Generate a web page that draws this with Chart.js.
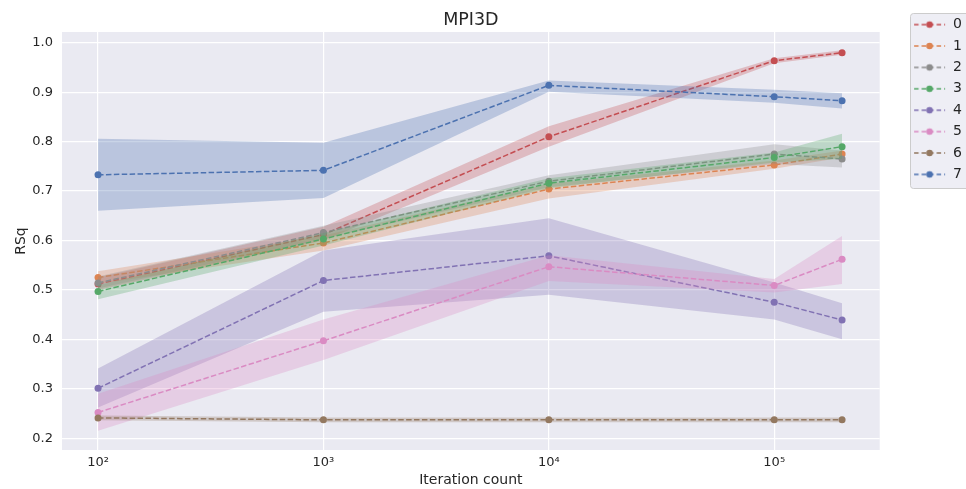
<!DOCTYPE html>
<html>
<head>
<meta charset="utf-8">
<script src="https://cdn.jsdelivr.net/npm/chart.js@4/dist/chart.umd.min.js"></script>
<style>
  html, body { margin: 0; padding: 0; background: #ffffff; }
</style>
</head>
<body>
<canvas id="chart" width="966" height="489"></canvas>
<script>
// x positions (iteration count) and tick labels
const iterations = [100, 1000, 10000, 100000, 200000];
const xTickValues = [100, 1000, 10000, 100000];
const xTickLabels = ['10²', '10³', '10⁴', '10⁵'];
const yTickValues = [0.2, 0.3, 0.4, 0.5, 0.6, 0.7, 0.8, 0.9, 1.0];

const seriesNames = ['0', '1', '2', '3', '4', '5', '6', '7'];
const seriesColors = ['#C44E52', '#DD8452', '#8C8C8C', '#55A868', '#8172B3', '#DA8BC3', '#937860', '#4C72B0'];

// mean RSq per series, one row per series
const rsqMean = [
  [0.512, 0.612, 0.810, 0.964, 0.980],
  [0.525, 0.595, 0.704, 0.753, 0.775],
  [0.514, 0.616, 0.720, 0.775, 0.765],
  [0.497, 0.603, 0.716, 0.768, 0.790],
  [0.301, 0.519, 0.569, 0.475, 0.439],
  [0.252, 0.397, 0.547, 0.509, 0.562],
  [0.241, 0.237, 0.237, 0.237, 0.237],
  [0.733, 0.742, 0.914, 0.891, 0.883]
];
// lower / upper edge of the shaded band
const rsqLow = [
  [0.500, 0.600, 0.790, 0.959, 0.976],
  [0.512, 0.580, 0.685, 0.745, 0.768],
  [0.503, 0.603, 0.708, 0.755, 0.748],
  [0.481, 0.590, 0.706, 0.758, 0.765],
  [0.262, 0.456, 0.490, 0.440, 0.400],
  [0.215, 0.358, 0.518, 0.495, 0.512],
  [0.236, 0.232, 0.232, 0.232, 0.232],
  [0.660, 0.686, 0.901, 0.879, 0.867]
];
const rsqHigh = [
  [0.525, 0.628, 0.831, 0.969, 0.985],
  [0.538, 0.610, 0.715, 0.762, 0.782],
  [0.527, 0.630, 0.732, 0.795, 0.782],
  [0.510, 0.615, 0.726, 0.778, 0.816],
  [0.341, 0.580, 0.645, 0.515, 0.473],
  [0.290, 0.440, 0.570, 0.522, 0.609],
  [0.246, 0.242, 0.242, 0.242, 0.242],
  [0.806, 0.798, 0.924, 0.905, 0.898]
];

const textColor = '#262626';
const fontFamily = "'DejaVu Sans', sans-serif";
const markerW = 59;

function rgba(hex, a) {
  const n = parseInt(hex.slice(1), 16);
  return 'rgba(' + (n >> 16) + ',' + ((n >> 8) & 255) + ',' + (n & 255) + ',' + a + ')';
}

function toPoints(row) {
  return row.map((v, i) => ({x: iterations[i], y: v}));
}

// dashed line with a dot, like the matplotlib legend handle
function legendMarker(color) {
  const c = document.createElement('canvas');
  c.width = markerW;
  c.height = 12;
  const g = c.getContext('2d');
  g.strokeStyle = color;
  g.lineWidth = 1.5;
  g.setLineDash([4.5, 3]);
  g.beginPath();
  g.moveTo(markerW - 32, 6);
  g.lineTo(markerW - 1, 6);
  g.stroke();
  g.fillStyle = color;
  g.beginPath();
  g.arc(markerW - 16.5, 6, 3.3, 0, Math.PI * 2);
  g.fill();
  return c;
}
const markers = seriesColors.map(legendMarker);

const datasets = [];
seriesNames.forEach((name, i) => {
  const c = seriesColors[i];
  datasets.push({
    label: '',
    data: toPoints(rsqLow[i]),
    borderColor: 'transparent',
    borderWidth: 0,
    pointRadius: 0,
    fill: false
  });
  datasets.push({
    label: '',
    data: toPoints(rsqHigh[i]),
    borderColor: 'transparent',
    borderWidth: 0,
    pointRadius: 0,
    backgroundColor: rgba(c, 0.3),
    fill: '-1'
  });
  datasets.push({
    label: name,
    data: toPoints(rsqMean[i]),
    borderColor: c,
    backgroundColor: c,
    borderWidth: 1.5,
    borderDash: [5.5, 2.4],
    pointRadius: 3.5,
    pointBorderWidth: 0,
    pointBackgroundColor: c,
    fill: false,
    seriesIndex: i
  });
});
datasets.forEach((d, k) => { d.order = -k; });

const backdrop = {
  id: 'backdrop',
  beforeDraw(chart) {
    const {ctx, chartArea: a} = chart;
    ctx.save();
    ctx.fillStyle = '#EAEAF2';
    ctx.fillRect(a.left, a.top, a.right - a.left, a.bottom - a.top);
    const lg = chart.legend;
    if (lg && lg.legendHitBoxes && lg.legendHitBoxes.length) {
      const first = lg.legendHitBoxes[0];
      const last = lg.legendHitBoxes[lg.legendHitBoxes.length - 1];
      const x = Math.round(first.left + markerW - 36);
      const y = Math.round(first.top - 5);
      const h = Math.round(last.top + last.height + 7 - y);
      ctx.fillStyle = 'rgba(234,234,242,0.8)';
      ctx.strokeStyle = '#CCCCCC';
      ctx.lineWidth = 1;
      ctx.beginPath();
      ctx.roundRect(x + 0.5, y + 0.5, chart.width - x + 4, h, 3);
      ctx.fill();
      ctx.stroke();
    }
    ctx.restore();
  }
};

new Chart(document.getElementById('chart').getContext('2d'), {
  type: 'line',
  data: {datasets: datasets},
  plugins: [backdrop],
  options: {
    responsive: false,
    animation: false,
    layout: {padding: {top: 0, left: 0, bottom: 0, right: -6}},
    plugins: {
      tooltip: {enabled: false},
      title: {
        display: true,
        text: 'MPI3D',
        fullSize: false,
        color: textColor,
        font: {family: fontFamily, size: 17.5, weight: 'normal'},
        padding: {top: 9.5, bottom: 1.5}
      },
      legend: {
        position: 'right',
        align: 'start',
        title: {display: true, text: '', font: {size: 1}, padding: {top: 9, bottom: 0}},
        labels: {
          color: textColor,
          font: {family: fontFamily, size: 14},
          usePointStyle: true,
          pointStyleWidth: markerW,
          padding: 7.4,
          filter: (item) => item.text !== '',
          sort: (a, b) => a.datasetIndex - b.datasetIndex,
          generateLabels(chart) {
            const items = Chart.defaults.plugins.legend.labels.generateLabels(chart);
            items.forEach((it) => {
              const ds = chart.data.datasets[it.datasetIndex];
              if (ds.seriesIndex !== undefined) it.pointStyle = markers[ds.seriesIndex];
            });
            return items;
          }
        }
      }
    },
    scales: {
      x: {
        type: 'logarithmic',
        min: 69.2,
        max: 293700,
        afterBuildTicks(scale) {
          scale.ticks = xTickValues.map((v) => ({value: v}));
        },
        afterFit(scale) { scale.height = 39; },
        ticks: {
          color: textColor,
          font: {family: fontFamily, size: 13},
          padding: 5,
          maxRotation: 0,
          callback: (v) => xTickLabels[xTickValues.indexOf(v)]
        },
        grid: {color: '#FFFFFF', lineWidth: 1.2, drawTicks: false},
        border: {display: false},
        title: {
          display: true,
          text: 'Iteration count',
          color: textColor,
          font: {family: fontFamily, size: 14},
          padding: {top: 0, bottom: 0}
        }
      },
      y: {
        min: 0.176,
        max: 1.022,
        afterBuildTicks(scale) {
          scale.ticks = yTickValues.map((v) => ({value: v}));
        },
        afterFit(scale) { scale.width = 62; },
        ticks: {
          color: textColor,
          font: {family: fontFamily, size: 13},
          padding: 9,
          callback: (v) => v.toFixed(1)
        },
        grid: {color: '#FFFFFF', lineWidth: 1.2, drawTicks: false},
        border: {display: false},
        title: {
          display: true,
          text: 'RSq',
          color: textColor,
          font: {family: fontFamily, size: 14},
          padding: {top: 12.5, bottom: 0}
        }
      }
    }
  }
});
</script>
</body>
</html>
